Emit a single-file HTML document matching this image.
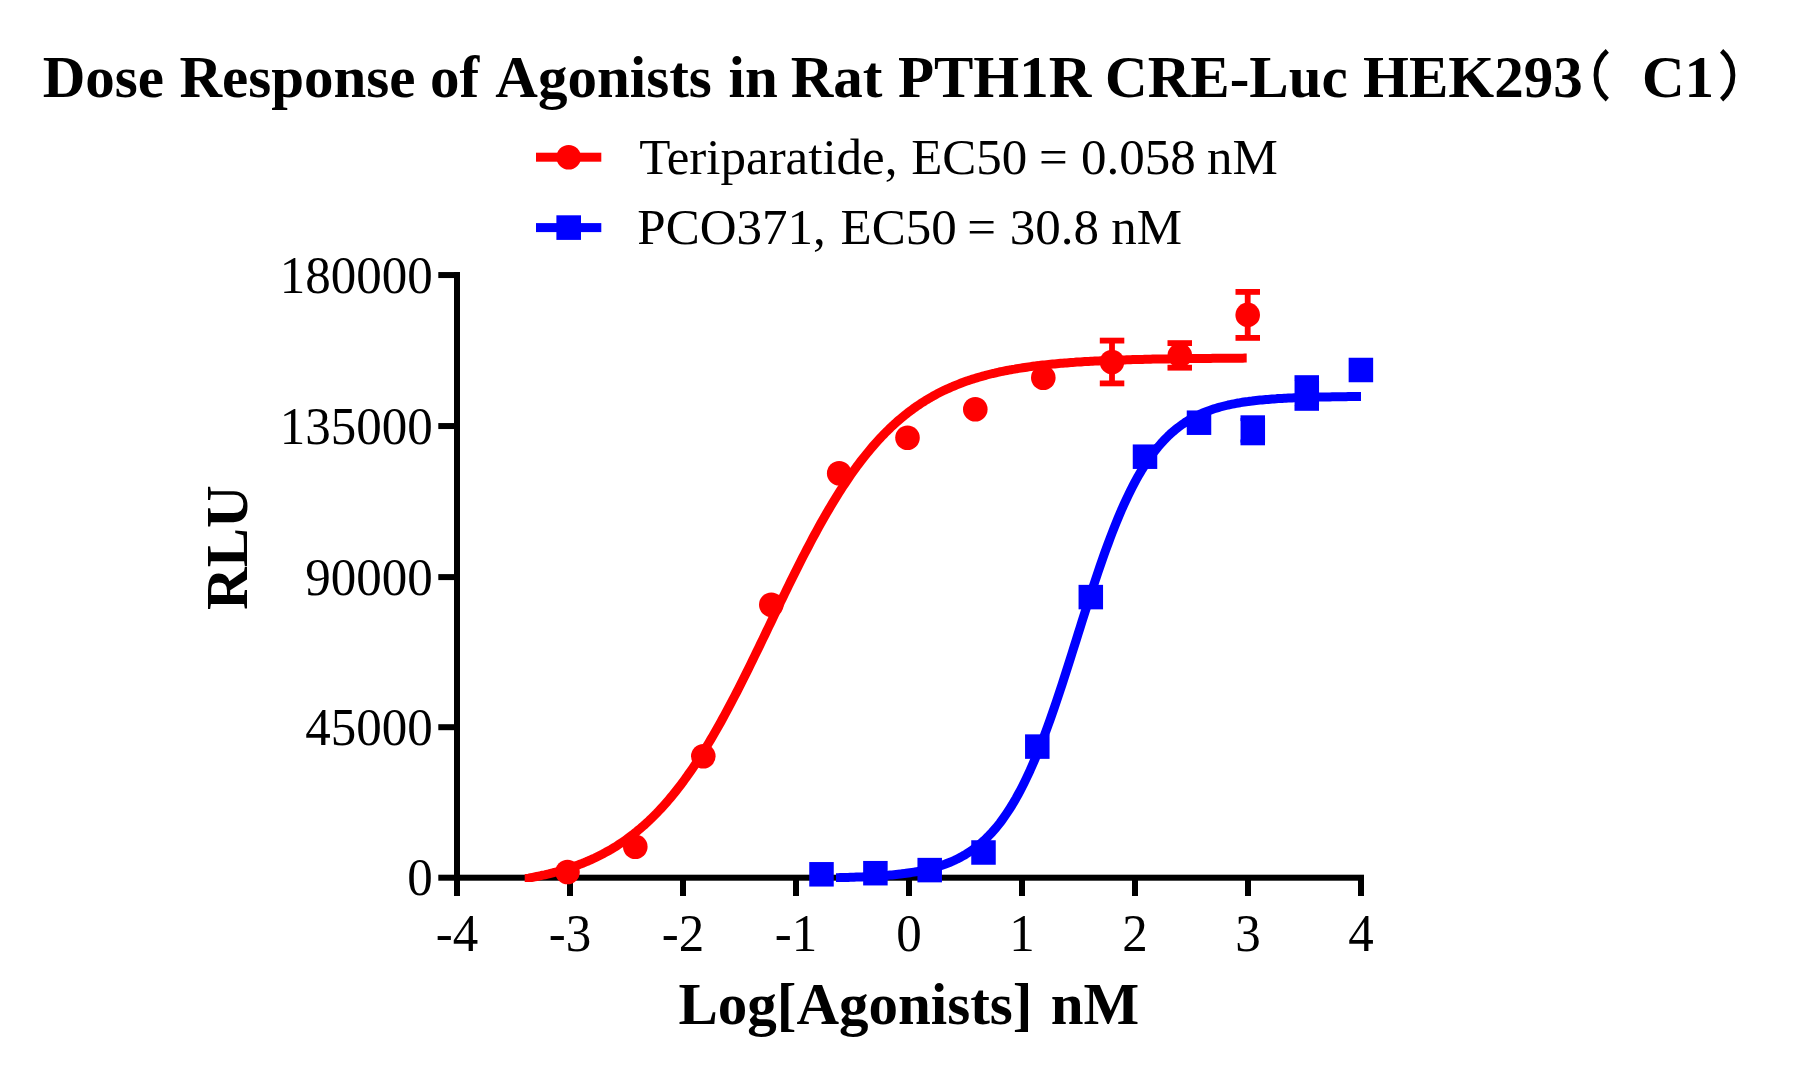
<!DOCTYPE html>
<html><head><meta charset="utf-8"><title>Dose Response</title>
<style>
html,body{margin:0;padding:0;background:#fff;}
body{width:1818px;height:1080px;overflow:hidden;}
svg{display:block;}
text{font-family:"Liberation Serif",serif;fill:#000;}
.b{font-weight:bold;}
</style></head><body>
<svg width="1818" height="1080" viewBox="0 0 1818 1080">
<rect width="1818" height="1080" fill="#fff"/>
<text class="b" x="42.73" y="96.5" font-size="59">Dose</text><text class="b" x="179.46" y="96.5" font-size="59">Response</text><text class="b" x="430.1" y="96.5" font-size="59">of</text><text class="b" x="495.36" y="96.5" font-size="59">Agonists</text><text class="b" x="728.54" y="96.5" font-size="59">in</text><text class="b" x="790.73" y="96.5" font-size="59">Rat</text><text class="b" x="897.95" y="96.5" font-size="59">PTH1R</text><text class="b" x="1105.11" y="96.5" font-size="59">CRE-Luc</text><text class="b" x="1363.0" y="96.5" font-size="59">HEK293</text><text class="b" x="1641.93" y="96.5" font-size="59">C1</text>
<path d="M1607.3,50.9 A31.9,31.9 0 0 0 1607.3,99.6" fill="none" stroke="#000" stroke-width="4.9"/>
<path d="M1721.6,50.9 A31.9,31.9 0 0 1 1721.6,99.6" fill="none" stroke="#000" stroke-width="4.9"/>
<g><rect x="536" y="152.7" width="65.3" height="9" fill="#f00"/><circle cx="568.7" cy="157.2" r="12.3" fill="#f00"/><rect x="536" y="223.1" width="65.3" height="9" fill="#00f"/><rect x="556.4" y="215.3" width="24.6" height="24.6" fill="#00f"/></g>
<text transform="translate(639.14,174.3) scale(1,1.012)" font-size="51">Teriparatide,</text><text transform="translate(911.18,174.3) scale(1,1.012)" font-size="51">EC50</text><text transform="translate(1039.01,174.3) scale(1,1.012)" font-size="51">=</text><text transform="translate(1081.09,174.3) scale(1,1.012)" font-size="51">0.058</text><text transform="translate(1206.91,174.3) scale(1,1.012)" font-size="51">nM</text><text transform="translate(637.37,244.4) scale(1,1.012)" font-size="51">PCO371,</text><text transform="translate(840.59,244.4) scale(1,1.012)" font-size="51">EC50</text><text transform="translate(967.28,244.4) scale(1,1.012)" font-size="51">=</text><text transform="translate(1009.73,244.4) scale(1,1.012)" font-size="51">30.8</text><text transform="translate(1111.27,244.4) scale(1,1.012)" font-size="51">nM</text>
<g fill="#000"><rect x="454" y="272" width="6" height="609"/><rect x="438.3" y="874.7" width="925.7" height="6"/><rect x="438.3" y="272.05" width="16" height="6"/><rect x="438.3" y="423.05" width="16" height="6"/><rect x="438.3" y="574.10" width="16" height="6"/><rect x="438.3" y="724.20" width="16" height="6"/><rect x="454" y="878" width="6" height="18"/><rect x="567" y="878" width="6" height="18"/><rect x="680" y="878" width="6" height="18"/><rect x="793" y="878" width="6" height="18"/><rect x="906" y="878" width="6" height="18"/><rect x="1019" y="878" width="6" height="18"/><rect x="1132" y="878" width="6" height="18"/><rect x="1245" y="878" width="6" height="18"/><rect x="1358" y="878" width="6" height="18"/></g>
<text transform="translate(432.7,292.7) scale(1,1.02)" font-size="51" text-anchor="end">180000</text><text transform="translate(432.7,443.7) scale(1,1.02)" font-size="51" text-anchor="end">135000</text><text transform="translate(432.7,594.7) scale(1,1.02)" font-size="51" text-anchor="end">90000</text><text transform="translate(432.7,744.8) scale(1,1.02)" font-size="51" text-anchor="end">45000</text><text transform="translate(432.7,895.2) scale(1,1.02)" font-size="51" text-anchor="end">0</text>
<text transform="translate(457,950.7) scale(1,1.02)" font-size="51" text-anchor="middle">-4</text><text transform="translate(570,950.7) scale(1,1.02)" font-size="51" text-anchor="middle">-3</text><text transform="translate(683,950.7) scale(1,1.02)" font-size="51" text-anchor="middle">-2</text><text transform="translate(796,950.7) scale(1,1.02)" font-size="51" text-anchor="middle">-1</text><text transform="translate(909,950.7) scale(1,1.02)" font-size="51" text-anchor="middle">0</text><text transform="translate(1022,950.7) scale(1,1.02)" font-size="51" text-anchor="middle">1</text><text transform="translate(1135,950.7) scale(1,1.02)" font-size="51" text-anchor="middle">2</text><text transform="translate(1248,950.7) scale(1,1.02)" font-size="51" text-anchor="middle">3</text><text transform="translate(1361,950.7) scale(1,1.02)" font-size="51" text-anchor="middle">4</text>
<text class="b" x="678.46" y="1024.3" font-size="59">Log[Agonists]</text><text class="b" x="1050.73" y="1024.3" font-size="59">nM</text>
<text class="b" transform="translate(247,547.6) rotate(-90)" font-size="59" text-anchor="middle">RLU</text>
<defs><clipPath id="cr"><rect x="524.7" y="0" width="722" height="881.9"/></clipPath><clipPath id="cb"><rect x="836.1" y="0" width="524.8" height="881.9"/></clipPath></defs>
<path clip-path="url(#cr)" d="M514.7,880.3 L516.7,880.0 L518.7,879.7 L520.7,879.4 L522.7,879.1 L524.7,878.8 L526.7,878.4 L528.7,878.1 L530.7,877.7 L532.7,877.3 L534.7,876.9 L536.7,876.5 L538.7,876.1 L540.7,875.7 L542.7,875.2 L544.7,874.8 L546.7,874.3 L548.7,873.9 L550.7,873.4 L552.7,872.9 L554.7,872.3 L556.7,871.8 L558.7,871.2 L560.7,870.7 L562.7,870.1 L564.7,869.5 L566.7,868.8 L568.7,868.2 L570.7,867.5 L572.7,866.9 L574.7,866.2 L576.7,865.4 L578.7,864.7 L580.7,863.9 L582.7,863.2 L584.7,862.4 L586.7,861.5 L588.7,860.7 L590.7,859.8 L592.7,858.9 L594.7,858.0 L596.7,857.0 L598.7,856.0 L600.7,855.0 L602.7,854.0 L604.7,852.9 L606.7,851.8 L608.7,850.7 L610.7,849.6 L612.7,848.4 L614.7,847.2 L616.7,845.9 L618.7,844.6 L620.7,843.3 L622.7,842.0 L624.7,840.6 L626.7,839.2 L628.7,837.7 L630.7,836.2 L632.7,834.7 L634.7,833.1 L636.7,831.5 L638.7,829.8 L640.7,828.2 L642.7,826.4 L644.7,824.7 L646.7,822.8 L648.7,821.0 L650.7,819.1 L652.7,817.1 L654.7,815.1 L656.7,813.1 L658.7,811.0 L660.7,808.9 L662.7,806.7 L664.7,804.5 L666.7,802.2 L668.7,799.9 L670.7,797.5 L672.7,795.1 L674.7,792.6 L676.7,790.1 L678.7,787.5 L680.7,784.9 L682.7,782.3 L684.7,779.5 L686.7,776.8 L688.7,773.9 L690.7,771.1 L692.7,768.2 L694.7,765.2 L696.7,762.2 L698.7,759.1 L700.7,756.0 L702.7,752.8 L704.7,749.6 L706.7,746.3 L708.7,743.0 L710.7,739.6 L712.7,736.2 L714.7,732.8 L716.7,729.3 L718.7,725.8 L720.7,722.2 L722.7,718.5 L724.7,714.9 L726.7,711.2 L728.7,707.4 L730.7,703.7 L732.7,699.8 L734.7,696.0 L736.7,692.1 L738.7,688.2 L740.7,684.2 L742.7,680.3 L744.7,676.3 L746.7,672.2 L748.7,668.2 L750.7,664.1 L752.7,660.0 L754.7,655.9 L756.7,651.8 L758.7,647.7 L760.7,643.5 L762.7,639.4 L764.7,635.2 L766.7,631.0 L768.7,626.9 L770.7,622.7 L772.7,618.5 L774.7,614.4 L776.7,610.2 L778.7,606.0 L780.7,601.9 L782.7,597.7 L784.7,593.6 L786.7,589.5 L788.7,585.4 L790.7,581.3 L792.7,577.3 L794.7,573.2 L796.7,569.2 L798.7,565.2 L800.7,561.3 L802.7,557.3 L804.7,553.5 L806.7,549.6 L808.7,545.8 L810.7,542.0 L812.7,538.2 L814.7,534.5 L816.7,530.8 L818.7,527.1 L820.7,523.5 L822.7,520.0 L824.7,516.5 L826.7,513.0 L828.7,509.6 L830.7,506.2 L832.7,502.9 L834.7,499.6 L836.7,496.3 L838.7,493.1 L840.7,490.0 L842.7,486.9 L844.7,483.9 L846.7,480.9 L848.7,477.9 L850.7,475.0 L852.7,472.2 L854.7,469.4 L856.7,466.6 L858.7,464.0 L860.7,461.3 L862.7,458.7 L864.7,456.2 L866.7,453.7 L868.7,451.3 L870.7,448.9 L872.7,446.5 L874.7,444.2 L876.7,442.0 L878.7,439.8 L880.7,437.6 L882.7,435.5 L884.7,433.5 L886.7,431.4 L888.7,429.5 L890.7,427.5 L892.7,425.7 L894.7,423.8 L896.7,422.0 L898.7,420.3 L900.7,418.6 L902.7,416.9 L904.7,415.3 L906.7,413.7 L908.7,412.1 L910.7,410.6 L912.7,409.2 L914.7,407.7 L916.7,406.3 L918.7,405.0 L920.7,403.6 L922.7,402.3 L924.7,401.1 L926.7,399.8 L928.7,398.6 L930.7,397.5 L932.7,396.3 L934.7,395.2 L936.7,394.1 L938.7,393.1 L940.7,392.1 L942.7,391.1 L944.7,390.1 L946.7,389.2 L948.7,388.3 L950.7,387.4 L952.7,386.5 L954.7,385.7 L956.7,384.9 L958.7,384.1 L960.7,383.3 L962.7,382.5 L964.7,381.8 L966.7,381.1 L968.7,380.4 L970.7,379.8 L972.7,379.1 L974.7,378.5 L976.7,377.9 L978.7,377.3 L980.7,376.7 L982.7,376.1 L984.7,375.6 L986.7,375.0 L988.7,374.5 L990.7,374.0 L992.7,373.5 L994.7,373.1 L996.7,372.6 L998.7,372.2 L1000.7,371.7 L1002.7,371.3 L1004.7,370.9 L1006.7,370.5 L1008.7,370.1 L1010.7,369.8 L1012.7,369.4 L1014.7,369.1 L1016.7,368.7 L1018.7,368.4 L1020.7,368.1 L1022.7,367.8 L1024.7,367.5 L1026.7,367.2 L1028.7,366.9 L1030.7,366.6 L1032.7,366.3 L1034.7,366.1 L1036.7,365.8 L1038.7,365.6 L1040.7,365.3 L1042.7,365.1 L1044.7,364.9 L1046.7,364.7 L1048.7,364.5 L1050.7,364.3 L1052.7,364.1 L1054.7,363.9 L1056.7,363.7 L1058.7,363.5 L1060.7,363.3 L1062.7,363.2 L1064.7,363.0 L1066.7,362.9 L1068.7,362.7 L1070.7,362.5 L1072.7,362.4 L1074.7,362.3 L1076.7,362.1 L1078.7,362.0 L1080.7,361.9 L1082.7,361.7 L1084.7,361.6 L1086.7,361.5 L1088.7,361.4 L1090.7,361.3 L1092.7,361.2 L1094.7,361.1 L1096.7,361.0 L1098.7,360.9 L1100.7,360.8 L1102.7,360.7 L1104.7,360.6 L1106.7,360.5 L1108.7,360.4 L1110.7,360.4 L1112.7,360.3 L1114.7,360.2 L1116.7,360.1 L1118.7,360.1 L1120.7,360.0 L1122.7,359.9 L1124.7,359.9 L1126.7,359.8 L1128.7,359.7 L1130.7,359.7 L1132.7,359.6 L1134.7,359.6 L1136.7,359.5 L1138.7,359.5 L1140.7,359.4 L1142.7,359.4 L1144.7,359.3 L1146.7,359.3 L1148.7,359.2 L1150.7,359.2 L1152.7,359.1 L1154.7,359.1 L1156.7,359.1 L1158.7,359.0 L1160.7,359.0 L1162.7,359.0 L1164.7,358.9 L1166.7,358.9 L1168.7,358.9 L1170.7,358.8 L1172.7,358.8 L1174.7,358.8 L1176.7,358.7 L1178.7,358.7 L1180.7,358.7 L1182.7,358.7 L1184.7,358.6 L1186.7,358.6 L1188.7,358.6 L1190.7,358.6 L1192.7,358.5 L1194.7,358.5 L1196.7,358.5 L1198.7,358.5 L1200.7,358.4 L1202.7,358.4 L1204.7,358.4 L1206.7,358.4 L1208.7,358.4 L1210.7,358.4 L1212.7,358.3 L1214.7,358.3 L1216.7,358.3 L1218.7,358.3 L1220.7,358.3 L1222.7,358.3 L1224.7,358.3 L1226.7,358.2 L1228.7,358.2 L1230.7,358.2 L1232.7,358.2 L1234.7,358.2 L1236.7,358.2 L1238.7,358.2 L1240.7,358.2 L1242.7,358.2 L1244.7,358.1 L1246.7,358.1 L1248.7,358.1 L1250.7,358.1 L1252.7,358.1" fill="none" stroke="#f00" stroke-width="9" stroke-linejoin="round"/>
<path clip-path="url(#cb)" d="M826.1,877.9 L828.1,877.9 L830.1,877.8 L832.1,877.8 L834.1,877.7 L836.1,877.7 L838.1,877.7 L840.1,877.6 L842.1,877.6 L844.1,877.5 L846.1,877.4 L848.1,877.4 L850.1,877.3 L852.1,877.3 L854.1,877.2 L856.1,877.1 L858.1,877.0 L860.1,877.0 L862.1,876.9 L864.1,876.8 L866.1,876.7 L868.1,876.6 L870.1,876.5 L872.1,876.4 L874.1,876.3 L876.1,876.2 L878.1,876.0 L880.1,875.9 L882.1,875.7 L884.1,875.6 L886.1,875.4 L888.1,875.3 L890.1,875.1 L892.1,874.9 L894.1,874.7 L896.1,874.5 L898.1,874.3 L900.1,874.1 L902.1,873.8 L904.1,873.6 L906.1,873.3 L908.1,873.0 L910.1,872.7 L912.1,872.4 L914.1,872.1 L916.1,871.8 L918.1,871.4 L920.1,871.0 L922.1,870.6 L924.1,870.2 L926.1,869.7 L928.1,869.3 L930.1,868.8 L932.1,868.3 L934.1,867.7 L936.1,867.2 L938.1,866.6 L940.1,865.9 L942.1,865.3 L944.1,864.6 L946.1,863.8 L948.1,863.0 L950.1,862.2 L952.1,861.4 L954.1,860.5 L956.1,859.5 L958.1,858.6 L960.1,857.5 L962.1,856.4 L964.1,855.3 L966.1,854.1 L968.1,852.8 L970.1,851.5 L972.1,850.1 L974.1,848.7 L976.1,847.2 L978.1,845.6 L980.1,843.9 L982.1,842.2 L984.1,840.4 L986.1,838.5 L988.1,836.5 L990.1,834.4 L992.1,832.3 L994.1,830.0 L996.1,827.7 L998.1,825.2 L1000.1,822.7 L1002.1,820.0 L1004.1,817.2 L1006.1,814.3 L1008.1,811.3 L1010.1,808.2 L1012.1,805.0 L1014.1,801.6 L1016.1,798.2 L1018.1,794.5 L1020.1,790.8 L1022.1,787.0 L1024.1,783.0 L1026.1,778.9 L1028.1,774.6 L1030.1,770.3 L1032.1,765.7 L1034.1,761.1 L1036.1,756.4 L1038.1,751.5 L1040.1,746.5 L1042.1,741.3 L1044.1,736.1 L1046.1,730.7 L1048.1,725.3 L1050.1,719.7 L1052.1,714.0 L1054.1,708.2 L1056.1,702.4 L1058.1,696.4 L1060.1,690.4 L1062.1,684.3 L1064.1,678.1 L1066.1,671.9 L1068.1,665.7 L1070.1,659.4 L1072.1,653.0 L1074.1,646.7 L1076.1,640.3 L1078.1,633.9 L1080.1,627.6 L1082.1,621.2 L1084.1,614.9 L1086.1,608.6 L1088.1,602.3 L1090.1,596.1 L1092.1,590.0 L1094.1,583.9 L1096.1,577.8 L1098.1,571.9 L1100.1,566.0 L1102.1,560.3 L1104.1,554.6 L1106.1,549.0 L1108.1,543.6 L1110.1,538.2 L1112.1,533.0 L1114.1,527.9 L1116.1,522.9 L1118.1,518.0 L1120.1,513.3 L1122.1,508.6 L1124.1,504.2 L1126.1,499.8 L1128.1,495.6 L1130.1,491.5 L1132.1,487.5 L1134.1,483.6 L1136.1,479.9 L1138.1,476.3 L1140.1,472.9 L1142.1,469.5 L1144.1,466.3 L1146.1,463.2 L1148.1,460.2 L1150.1,457.3 L1152.1,454.6 L1154.1,451.9 L1156.1,449.4 L1158.1,446.9 L1160.1,444.6 L1162.1,442.3 L1164.1,440.2 L1166.1,438.1 L1168.1,436.1 L1170.1,434.2 L1172.1,432.4 L1174.1,430.7 L1176.1,429.1 L1178.1,427.5 L1180.1,426.0 L1182.1,424.5 L1184.1,423.2 L1186.1,421.8 L1188.1,420.6 L1190.1,419.4 L1192.1,418.3 L1194.1,417.2 L1196.1,416.2 L1198.1,415.2 L1200.1,414.2 L1202.1,413.3 L1204.1,412.5 L1206.1,411.7 L1208.1,410.9 L1210.1,410.2 L1212.1,409.5 L1214.1,408.8 L1216.1,408.2 L1218.1,407.6 L1220.1,407.0 L1222.1,406.5 L1224.1,406.0 L1226.1,405.5 L1228.1,405.0 L1230.1,404.6 L1232.1,404.2 L1234.1,403.8 L1236.1,403.4 L1238.1,403.0 L1240.1,402.7 L1242.1,402.3 L1244.1,402.0 L1246.1,401.7 L1248.1,401.5 L1250.1,401.2 L1252.1,401.0 L1254.1,400.7 L1256.1,400.5 L1258.1,400.3 L1260.1,400.1 L1262.1,399.9 L1264.1,399.7 L1266.1,399.5 L1268.1,399.4 L1270.1,399.2 L1272.1,399.0 L1274.1,398.9 L1276.1,398.8 L1278.1,398.6 L1280.1,398.5 L1282.1,398.4 L1284.1,398.3 L1286.1,398.2 L1288.1,398.1 L1290.1,398.0 L1292.1,397.9 L1294.1,397.8 L1296.1,397.7 L1298.1,397.7 L1300.1,397.6 L1302.1,397.5 L1304.1,397.5 L1306.1,397.4 L1308.1,397.3 L1310.1,397.3 L1312.1,397.2 L1314.1,397.2 L1316.1,397.1 L1318.1,397.1 L1320.1,397.1 L1322.1,397.0 L1324.1,397.0 L1326.1,396.9 L1328.1,396.9 L1330.1,396.9 L1332.1,396.8 L1334.1,396.8 L1336.1,396.8 L1338.1,396.8 L1340.1,396.7 L1342.1,396.7 L1344.1,396.7 L1346.1,396.7 L1348.1,396.6 L1350.1,396.6 L1352.1,396.6 L1354.1,396.6 L1356.1,396.6 L1358.1,396.6 L1360.1,396.5 L1362.1,396.5 L1364.1,396.5 L1366.1,396.5 L1366.9,396.5" fill="none" stroke="#00f" stroke-width="9" stroke-linejoin="round"/>
<g fill="#f00"><circle cx="567.5" cy="872" r="12.3"/><circle cx="635.3" cy="846.7" r="12.3"/><circle cx="703.3" cy="756.3" r="12.3"/><circle cx="771.3" cy="604.7" r="12.3"/><circle cx="839.2" cy="473.3" r="12.3"/><circle cx="907.5" cy="437.8" r="12.3"/><circle cx="975.3" cy="409.2" r="12.3"/><circle cx="1043.3" cy="377.7" r="12.3"/><rect x="1109.1" y="340.6" width="5.8" height="42.8"/><rect x="1099.8" y="337.7" width="24.5" height="5.8"/><rect x="1099.8" y="380.5" width="24.5" height="5.8"/><circle cx="1112" cy="362.0" r="12.3"/><rect x="1176.9" y="343.1" width="5.8" height="24.6"/><rect x="1167.5" y="340.2" width="24.5" height="5.8"/><rect x="1167.5" y="364.8" width="24.5" height="5.8"/><circle cx="1179.8" cy="355.4" r="12.3"/><rect x="1244.8" y="291.9" width="5.8" height="46.0"/><rect x="1235.5" y="289.0" width="24.5" height="5.8"/><rect x="1235.5" y="335.0" width="24.5" height="5.8"/><circle cx="1247.7" cy="314.9" r="12.3"/></g>
<g fill="#00f"><rect x="809.25" y="862.05" width="24.5" height="24.5"/><rect x="863.15" y="860.95" width="24.5" height="24.5"/><rect x="917.45" y="857.85" width="24.5" height="24.5"/><rect x="971.25" y="840.25" width="24.5" height="24.5"/><rect x="1025.05" y="734.35" width="24.5" height="24.5"/><rect x="1078.55" y="584.85" width="24.5" height="24.5"/><rect x="1132.75" y="444.45" width="24.5" height="24.5"/><rect x="1186.75" y="410.45" width="24.5" height="24.5"/><rect x="1249.9" y="418.2" width="5.8" height="24.2"/><rect x="1240.5" y="415.3" width="24.5" height="5.8"/><rect x="1240.5" y="439.5" width="24.5" height="5.8"/><rect x="1240.55" y="418.05" width="24.5" height="24.5"/><rect x="1303.9" y="378.1" width="5.8" height="29.8"/><rect x="1294.5" y="375.2" width="24.5" height="5.8"/><rect x="1294.5" y="405.0" width="24.5" height="5.8"/><rect x="1294.55" y="380.75" width="24.5" height="24.5"/><rect x="1348.65" y="357.75" width="24.5" height="24.5"/></g>
</svg></body></html>
